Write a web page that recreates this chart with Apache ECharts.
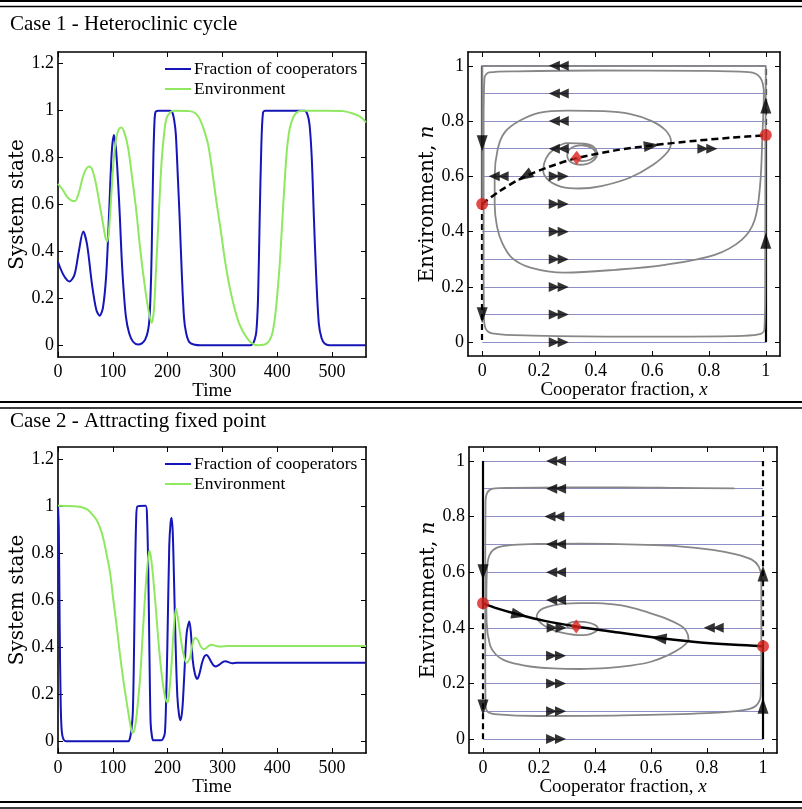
<!DOCTYPE html>
<html><head><meta charset="utf-8">
<script src="https://cdn.jsdelivr.net/npm/echarts@6/dist/echarts.min.js"></script>
<style>html,body{margin:0;padding:0;background:#fff}#c{width:802px;height:809px}</style>
</head><body><div id="c"></div>
<script>
// ---------------- data ----------------
const titles = ['Case 1 - Heteroclinic cycle', 'Case 2 - Attracting fixed point'];
const seriesNames = ['Fraction of cooperators', 'Environment'];
const timeTicks = [0, 100, 200, 300, 400, 500];
const stateTicks = [0, 0.2, 0.4, 0.6, 0.8, 1, 1.2];
const phaseTicks = [0, 0.2, 0.4, 0.6, 0.8, 1];
const flowLevels = [0, 0.1, 0.2, 0.3, 0.4, 0.5, 0.6, 0.7, 0.8, 0.9, 1];

const case1Coop = [[0,0.355],[10,0.3],[21,0.272],[30,0.3],[38,0.4],[46,0.485],[53,0.43],[62,0.26],[70,0.15],[76,0.126],[82,0.16],[88,0.3],[93,0.55],[98,0.82],[102,0.896],[106,0.83],[110,0.68],[113,0.54],[116,0.38],[119,0.26],[124,0.12],[130,0.05],[137,0.015],[146,0.003],[153,0.008],[159,0.024],[164,0.06],[167,0.116],[170,0.3],[172,0.54],[174,0.8],[176,0.95],[178,0.995],[183,1.0],[205,1.0],[209,0.99],[212,0.96],[215,0.9],[219,0.7],[222,0.54],[226,0.3],[230,0.116],[234,0.05],[240,0.012],[250,0.002],[260,0],[350,0],[355,0.005],[359,0.025],[362,0.06],[365,0.2],[368,0.54],[371,0.85],[374,0.99],[378,1.0],[450,1.0],[455,0.985],[459,0.94],[463,0.8],[467,0.54],[471,0.3],[476,0.09],[481,0.03],[487,0.006],[495,0],[562,0]];
const case1Env = [[0,0.688],[8,0.665],[16,0.635],[24,0.618],[31,0.615],[38,0.65],[45,0.715],[51,0.75],[57,0.762],[63,0.745],[70,0.68],[76,0.6],[82,0.52],[87,0.455],[90,0.443],[94,0.52],[98,0.67],[102,0.8],[106,0.88],[111,0.92],[116,0.928],[122,0.9],[128,0.84],[135,0.72],[143,0.57],[150,0.41],[158,0.258],[165,0.15],[171,0.095],[175,0.15],[179,0.33],[184,0.56],[189,0.783],[194,0.91],[198,0.967],[205,0.993],[213,1.0],[240,0.998],[250,0.99],[258,0.967],[266,0.92],[274,0.854],[281,0.75],[289,0.613],[297,0.49],[304,0.372],[313,0.25],[322,0.159],[331,0.09],[341,0.045],[352,0.012],[365,0],[375,0.002],[381,0.008],[387,0.025],[392,0.06],[397,0.14],[401,0.24],[405,0.36],[409,0.52],[414,0.712],[418,0.84],[423,0.926],[430,0.975],[438,0.996],[450,1.0],[490,1.0],[520,0.998],[535,0.99],[547,0.98],[555,0.968],[562,0.95]];
const case2Coop = [[0,1.0],[1.5,0.9],[3,0.5],[5,0.15],[7,0.04],[10,0.008],[15,0],[128,0],[131,0.01],[134,0.05],[136.5,0.12],[138.5,0.35],[140.5,0.686],[142.5,0.93],[145,0.998],[160,1.0],[162.5,0.95],[165,0.686],[167,0.35],[169,0.078],[171.5,0.02],[174,0.004],[189,0.004],[192,0.012],[195,0.035],[197,0.15],[199.5,0.4],[203,0.83],[205.5,0.93],[207.4,0.948],[209.5,0.88],[211.7,0.686],[214.5,0.42],[217.8,0.19],[221,0.11],[223.8,0.089],[227,0.14],[230,0.262],[234.8,0.46],[239.7,0.509],[242.5,0.46],[245.8,0.346],[250,0.285],[254.3,0.265],[258.5,0.29],[262.8,0.333],[267,0.36],[271.4,0.366],[275.5,0.355],[280,0.335],[284,0.322],[288.4,0.318],[293,0.323],[297,0.33],[302,0.338],[306,0.34],[312,0.335],[318,0.331],[326,0.333],[562,0.333]];
const case2Env = [[0,1.0],[30,0.998],[45,0.993],[55,0.982],[62,0.965],[70,0.942],[77,0.905],[83,0.858],[89,0.79],[95,0.716],[101,0.6],[107,0.49],[113,0.37],[119,0.263],[124,0.185],[128.3,0.122],[132,0.07],[135.5,0.035],[139,0.045],[143,0.1],[146,0.17],[149.6,0.262],[154,0.43],[158.8,0.616],[162.5,0.73],[166.7,0.81],[170,0.775],[174,0.686],[178,0.58],[183,0.432],[187.5,0.32],[192,0.233],[196,0.18],[200,0.163],[203.5,0.22],[207.4,0.333],[211,0.47],[215.3,0.563],[219,0.52],[222.6,0.46],[228,0.38],[234.8,0.333],[240.9,0.354],[245,0.41],[250,0.44],[255,0.43],[260,0.405],[265,0.392],[270,0.395],[275,0.405],[280.5,0.41],[288,0.405],[296,0.402],[310,0.405],[562,0.405]];

const case1Orbit = [[0.333,0.667],[0.35,0.655],[0.38,0.66],[0.40,0.68],[0.39,0.70],[0.35,0.712],[0.31,0.70],[0.30,0.675],[0.315,0.65],[0.345,0.642],[0.385,0.652],[0.405,0.68],[0.395,0.705],[0.36,0.718],[0.30,0.72],[0.255,0.70],[0.225,0.665],[0.215,0.62],[0.235,0.585],[0.28,0.562],[0.34,0.556],[0.42,0.565],[0.52,0.595],[0.60,0.64],[0.655,0.69],[0.666,0.724],[0.648,0.765],[0.598,0.80],[0.52,0.826],[0.43,0.836],[0.3,0.838],[0.2,0.83],[0.13,0.80],[0.08,0.76],[0.055,0.70],[0.044,0.6],[0.044,0.5],[0.052,0.42],[0.07,0.36],[0.105,0.305],[0.17,0.27],[0.29,0.252],[0.47,0.262],[0.645,0.28],[0.82,0.316],[0.915,0.37],[0.96,0.44],[0.98,0.57],[0.988,0.75],[0.993,0.9],[0.98,0.958],[0.94,0.977],[0.76,0.982],[0.41,0.983],[0.12,0.98],[0.025,0.976],[0.008,0.955],[0.005,0.8],[0.005,0.33],[0.006,0.1],[0.011,0.052],[0.035,0.032],[0.18,0.024],[0.53,0.02],[0.88,0.022],[0.974,0.028],[0.995,0.046],[0.998,0.2],[0.999,0.7],[1,0.95],[1,1],[0,1],[0,0.5]];
const case1Separatrix = [[0,0.5],[0.058,0.544],[0.14,0.594],[0.234,0.634],[0.334,0.666],[0.469,0.694],[0.598,0.712],[0.763,0.73],[0.88,0.74],[1,0.749]];
const case1Saddles = [[0,0.5],[1,0.75]];
const case1Interior = [[0.333,0.667]];
// fast flow arrows: [x, n, direction (+1 right, -1 left)]
const case1Fast = [[0.27,1,-1],[0.27,0.9,-1],[0.27,0.8,-1],[0.27,0.7,-1],[0.27,0.6,1],[0.27,0.5,1],[0.27,0.4,1],[0.27,0.3,1],[0.27,0.2,1],[0.27,0.1,1],[0.27,0,1],[0.058,0.6,-1],[0.794,0.7,1]];
// slow flow arrowheads: [x, n, dx, dn]
const case1Arrows = [[0,0.72,0,-1],[0,0.097,0,-1],[1,0.856,0,1],[1,0.367,0,1],[0.15,0.6,-0.082,-0.05],[0.598,0.711,0.17,0.02]];
const case1EdgeSolid = [[[0,1],[0,0.5]],[[1,0],[1,0.75]]];
const case1EdgeDashed = [[[0,0.5],[0,0]],[[1,0.75],[1,1]]];

const case2Orbit = [[0.898,0.901],[0.7,0.903],[0.5,0.905],[0.3,0.905],[0.1,0.903],[0.035,0.9],[0.015,0.885],[0.009,0.85],[0.008,0.6],[0.008,0.3],[0.009,0.13],[0.015,0.1],[0.04,0.09],[0.2,0.083],[0.5,0.085],[0.8,0.093],[0.93,0.104],[0.975,0.12],[0.992,0.16],[0.994,0.4],[0.994,0.58],[0.985,0.62],[0.96,0.645],[0.9,0.665],[0.82,0.68],[0.7,0.693],[0.585,0.698],[0.45,0.702],[0.347,0.703],[0.2,0.702],[0.108,0.698],[0.05,0.688],[0.025,0.665],[0.015,0.62],[0.012,0.5],[0.013,0.42],[0.025,0.337],[0.045,0.305],[0.073,0.285],[0.12,0.27],[0.168,0.261],[0.25,0.254],[0.347,0.252],[0.45,0.256],[0.526,0.264],[0.6,0.278],[0.657,0.3],[0.71,0.33],[0.734,0.36],[0.725,0.39],[0.704,0.409],[0.65,0.435],[0.585,0.457],[0.52,0.475],[0.466,0.484],[0.4,0.489],[0.347,0.489],[0.29,0.487],[0.251,0.481],[0.215,0.47],[0.198,0.457],[0.192,0.44],[0.2,0.423],[0.228,0.402],[0.26,0.388],[0.299,0.379],[0.34,0.374],[0.371,0.375],[0.4,0.385],[0.41,0.398],[0.395,0.413],[0.36,0.421],[0.33,0.422],[0.305,0.415],[0.3,0.405],[0.315,0.398],[0.333,0.402]];
const case2Separatrix = [[0,0.488],[0.05,0.47],[0.13,0.447],[0.22,0.425],[0.333,0.405],[0.45,0.388],[0.6,0.367],[0.75,0.35],[0.9,0.339],[1,0.334]];
const case2Saddles = [[0,0.488],[1,0.334]];
const case2Interior = [[0.333,0.405]];
const case2Fast = [[0.261,1,-1],[0.261,0.9,-1],[0.255,0.8,-1],[0.261,0.7,-1],[0.261,0.6,-1],[0.261,0.5,-1],[0.263,0.4,1],[0.261,0.3,1],[0.261,0.2,1],[0.261,0.1,1],[0.261,0,1],[0.824,0.4,-1]];
const case2Arrows = [[0,0.6,0,-1],[0,0.114,0,-1],[1,0.595,0,1],[1,0.12,0,1],[0.13,0.447,0.1,-0.022],[0.627,0.363,-0.1,0.012]];
const case2EdgeSolid = [[[0,1],[0,0.488]],[[1,0],[1,0.334]]];
const case2EdgeDashed = [[[0,0.488],[0,0]],[[1,0.334],[1,1]]];

// ---------------- layout / style ----------------
const SERIF = '"Liberation Serif", "Times New Roman", serif';
const WIDE = '"DejaVu Serif", serif';
const BLUE = '#1515b8', GREEN = '#8fe860', GRAY = '#878787', FLOW = '#8e8ec8', RED = '#d9221d';
const GRIDS = [
  {left: 58, top: 52, width: 308, height: 305},
  {left: 468, top: 52, width: 312, height: 304},
  {left: 58, top: 447, width: 308, height: 306},
  {left: 469, top: 447, width: 308, height: 306}
];
const PH = [-0.05, 1.05];

const xAxes = [], yAxes = [], series = [];

function addAxes(g, xr, yr, xt, yt, xName, yName, xGap, yGap) {
  const base = (ticks, show, margin) => ({
    axisLine: {show: true, onZero: false, lineStyle: {color: '#000', width: 1.6}},
    axisTick: {show: true, inside: true, length: 5, customValues: ticks, lineStyle: {color: '#000', width: 1}},
    axisLabel: {show: show, customValues: ticks, margin: margin, fontFamily: SERIF, fontSize: 18, color: '#000'},
    splitLine: {show: false}
  });
  xAxes.push(Object.assign({type: 'value', gridIndex: g, position: 'bottom', min: xr[0], max: xr[1],
    name: xName, nameLocation: 'middle', nameGap: xGap,
    nameTextStyle: {fontFamily: SERIF, fontSize: 19, color: '#000',
      rich: {t: {fontFamily: SERIF, fontSize: 19, color: '#000'}, i: {fontFamily: SERIF, fontSize: 19, fontStyle: 'italic', color: '#000'}}}
  }, base(xt, true, 6)));
  xAxes.push(Object.assign({type: 'value', gridIndex: g, position: 'top', min: xr[0], max: xr[1]}, base(xt, false, 6)));
  yAxes.push(Object.assign({type: 'value', gridIndex: g, position: 'left', min: yr[0], max: yr[1],
    name: yName, nameLocation: 'middle', nameGap: yGap, nameRotate: 90,
    nameTextStyle: {fontFamily: WIDE, fontSize: 20, color: '#000',
      rich: {t: {fontFamily: WIDE, fontSize: 20, color: '#000'}, i: {fontFamily: WIDE, fontSize: 20, fontStyle: 'italic', color: '#000'}}}
  }, base(yt, true, 4)));
  yAxes.push(Object.assign({type: 'value', gridIndex: g, position: 'right', min: yr[0], max: yr[1]}, base(yt, false, 4)));
}

function addTime(g, coop, env) {
  addAxes(g, [0, 562], [-0.05, 1.25], timeTicks, stateTicks, 'Time', 'System state', 21, 27);
  [[seriesNames[0], coop, BLUE], [seriesNames[1], env, GREEN]].forEach(([nm, d, c]) => {
    series.push({type: 'line', name: nm, data: d, xAxisIndex: 2 * g, yAxisIndex: 2 * g,
      symbol: 'none', smooth: 0.3, lineStyle: {color: c, width: 2}, itemStyle: {color: c},
      silent: true, z: 3});
  });
}

function rot(g, dx, dy) {
  const sx = GRIDS[g].width / 1.1, sy = GRIDS[g].height / 1.1;
  return Math.atan2(dy * sy, dx * sx) * 180 / Math.PI - 90;
}

function addPhase(g, orbit, sep, sepDashed, saddles, interior, fast, arrows, edgeSolid, edgeDashed) {
  addAxes(g, PH, PH, phaseTicks, phaseTicks, '{t|Cooperator fraction, }{i|x}', '{t|Environment, }{i|n}', 17, 26);
  const ax = {xAxisIndex: 2 * g, yAxisIndex: 2 * g, silent: true};
  series.push(Object.assign({type: 'lines', coordinateSystem: 'cartesian2d',
    data: flowLevels.map(n => ({coords: [[0, n], [1, n]]})),
    lineStyle: {color: FLOW, width: 1, opacity: 1}, z: 1}, ax));
  series.push(Object.assign({type: 'lines', coordinateSystem: 'cartesian2d',
    data: edgeSolid.map(c => ({coords: c})), lineStyle: {color: '#000', width: 2.2, opacity: 1}, z: 2}, ax));
  series.push(Object.assign({type: 'lines', coordinateSystem: 'cartesian2d',
    data: edgeDashed.map(c => ({coords: c})), lineStyle: {color: '#000', width: 2.2, type: [6, 4], opacity: 1}, z: 2}, ax));
  series.push(Object.assign({type: 'line', data: orbit, symbol: 'none', smooth: 0.35,
    lineStyle: {color: GRAY, width: 1.8}, z: 3}, ax));
  series.push(Object.assign({type: 'line', data: sep, symbol: 'none', smooth: 0.3,
    lineStyle: {color: '#000', width: 2.5, type: sepDashed ? [7, 4] : 'solid'}, z: 4}, ax));
  series.push(Object.assign({type: 'scatter', symbol: 'path://M0,0L10,5L0,10Z M8,0L18,5L8,10Z',
    symbolSize: [20, 10], itemStyle: {color: '#000'},
    data: fast.map(f => ({value: [f[0], f[1]], symbolRotate: f[2] > 0 ? 0 : 180})), z: 5}, ax));
  series.push(Object.assign({type: 'scatter', symbol: 'triangle', symbolSize: [11, 16], itemStyle: {color: '#000'},
    data: arrows.map(a => ({value: [a[0], a[1]], symbolRotate: rot(g, a[2], a[3])})), z: 5}, ax));
  series.push(Object.assign({type: 'scatter', symbol: 'circle', symbolSize: 12, itemStyle: {color: RED},
    data: saddles, z: 6}, ax));
  series.push(Object.assign({type: 'scatter', symbol: 'diamond', symbolSize: [11, 14], itemStyle: {color: RED},
    data: interior, z: 6}, ax));
}

addTime(0, case1Coop, case1Env);
addPhase(1, case1Orbit, case1Separatrix, true, case1Saddles, case1Interior, case1Fast, case1Arrows, case1EdgeSolid, case1EdgeDashed);
addTime(2, case2Coop, case2Env);
addPhase(3, case2Orbit, case2Separatrix, false, case2Saddles, case2Interior, case2Fast, case2Arrows, case2EdgeSolid, case2EdgeDashed);

const legendBase = {orient: 'vertical', left: 165, padding: 0, itemWidth: 26, itemHeight: 2, itemGap: 2,
  icon: 'path://M0,0H26V2H0Z',
  data: seriesNames, selectedMode: false,
  textStyle: {fontFamily: SERIF, fontSize: 17.5, lineHeight: 18, color: '#000', padding: [0, 0, 0, -2]}};

const sepLine = (y, w) => ({type: 'line', shape: {x1: 0, y1: y, x2: 802, y2: y}, style: {stroke: '#000', lineWidth: w}, silent: true});

const chart = echarts.init(document.getElementById('c'), null, {renderer: 'canvas'});
chart.setOption({
  animation: false,
  backgroundColor: '#fff',
  title: [
    {text: titles[0], left: 10, top: 14, padding: 0, textStyle: {fontFamily: SERIF, fontSize: 21, fontWeight: 'normal', color: '#000'}},
    {text: titles[1], left: 10, top: 411, padding: 0, textStyle: {fontFamily: SERIF, fontSize: 21, fontWeight: 'normal', color: '#000'}}
  ],
  legend: [Object.assign({top: 60}, legendBase), Object.assign({top: 455}, legendBase)],
  grid: GRIDS.map(b => Object.assign({containLabel: false, outerBoundsMode: 'none'}, b)),
  xAxis: xAxes,
  yAxis: yAxes,
  series: series,
  graphic: [sepLine(1, 2), sepLine(6.5, 1.5), sepLine(402, 2), sepLine(408, 1.5), sepLine(802, 2), sepLine(808, 1.5)]
});
</script></body></html>
